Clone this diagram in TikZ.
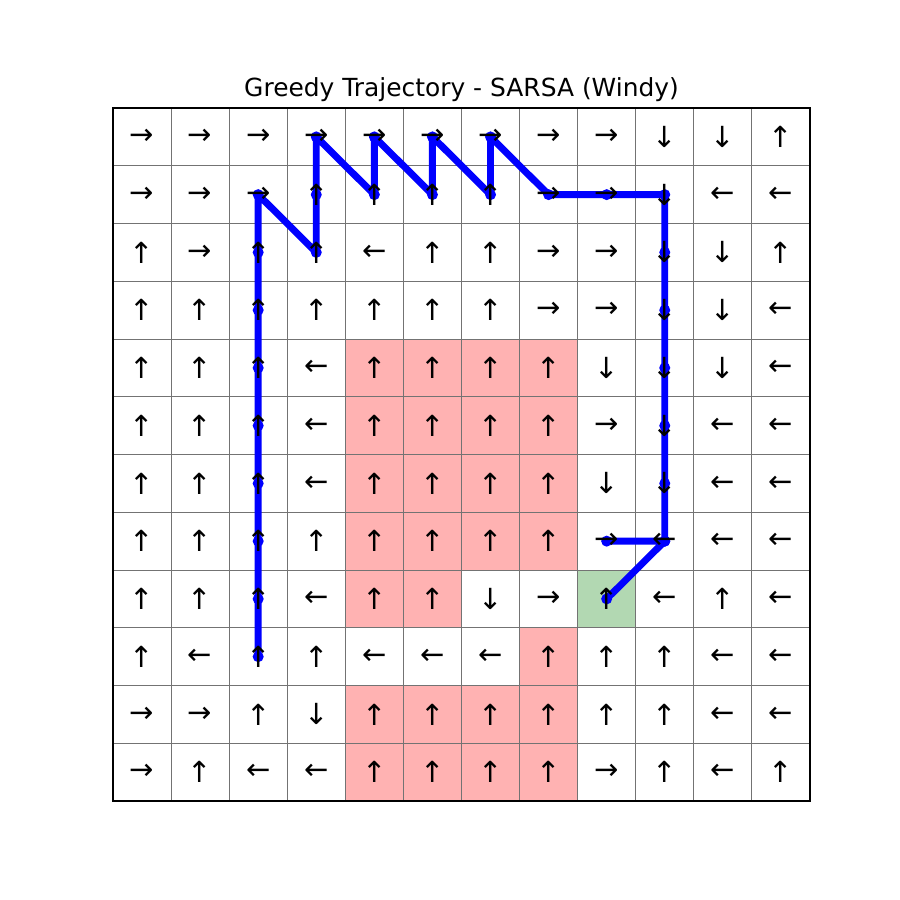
\documentclass[tikz,border=0pt]{standalone}
\usepackage{fontspec}
\setmainfont{DejaVu Sans}
\definecolor{hazardred}{RGB}{255,178,178}
\definecolor{goalgreen}{RGB}{178,216,178}
\newcommand{\arR}{→}
\newcommand{\arL}{←}
\newcommand{\arU}{↑}
\newcommand{\arD}{↓}
\tikzset{
	cellarrow/.style={inner sep=0pt, font=\fontsize{21}{21}\selectfont}, % greedy action of a cell
	hazard/.style={fill=hazardred},
	goal/.style={fill=goalgreen},
	gridline/.style={draw=black!55, line width=0.6pt},
	traj/.style={draw=blue, line width=5pt, line join=round},
	trajdot/.style={fill=blue}
}
\def\trajpts{9-2,8-2,7-2,6-2,5-2,4-2,3-2,2-2,1-2,2-3,1-3,0-3,1-4,0-4,1-5,0-5,1-6,0-6,1-7,1-8,1-9,2-9,3-9,4-9,5-9,6-9,7-9,7-8,7-9,8-8}

\begin{document}
\begin{tikzpicture}[x=0.254mm, y=-0.254mm]
	\useasboundingbox (0,0) rectangle (900,900);
	\node[anchor=base, font=\fontsize{18}{18}\selectfont] (title) at (461.5,96) {Greedy Trajectory - SARSA (Windy)};
	\begin{scope}[xshift=28.70mm, yshift=-27.43mm, x=14.752mm, y=-14.669mm]
		\foreach \rw in {0,...,11}
			\foreach \cl in {0,...,11}
				\coordinate (c-\rw-\cl) at (\cl+.5,\rw+.5);
		% wind / hazard cells and goal
		\foreach \rw in {4,...,7,10,11}
			\foreach \cl in {4,...,7}
				\fill[hazard] (\cl,\rw) rectangle ++(1,1);
		\foreach \rw/\cl in {8/4,8/5,9/7}
			\fill[hazard] (\cl,\rw) rectangle ++(1,1);
		\fill[goal] (8,8) rectangle ++(1,1);
		\foreach \i in {1,...,11} {
			\draw[gridline] (\i,0) -- (\i,12);
			\draw[gridline] (0,\i) -- (12,\i);
		}
		\draw[line width=1.2pt] (0,0) rectangle (12,12);
		% greedy path
		\draw[traj] (c-9-2) \foreach \p in \trajpts {-- (c-\p)};
		\foreach \p in \trajpts
			\fill[trajdot] (c-\p) circle (1.4mm);
		\foreach \row [count=\rw from 0] in {
			{R,R,R,R,R,R,R,R,R,D,D,U},
			{R,R,R,U,U,U,U,R,R,D,L,L},
			{U,R,U,U,L,U,U,R,R,D,D,U},
			{U,U,U,U,U,U,U,R,R,D,D,L},
			{U,U,U,L,U,U,U,U,D,D,D,L},
			{U,U,U,L,U,U,U,U,R,D,L,L},
			{U,U,U,L,U,U,U,U,D,D,L,L},
			{U,U,U,U,U,U,U,U,R,L,L,L},
			{U,U,U,L,U,U,D,R,U,L,U,L},
			{U,L,U,U,L,L,L,U,U,U,L,L},
			{R,R,U,D,U,U,U,U,U,U,L,L},
			{R,U,L,L,U,U,U,U,R,U,L,U}}
			\foreach \dir [count=\cl from 0] in \row
				\node[cellarrow] (a-\rw-\cl) at (c-\rw-\cl) {\csname ar\dir\endcsname};
	\end{scope}
\end{tikzpicture}
\end{document}
